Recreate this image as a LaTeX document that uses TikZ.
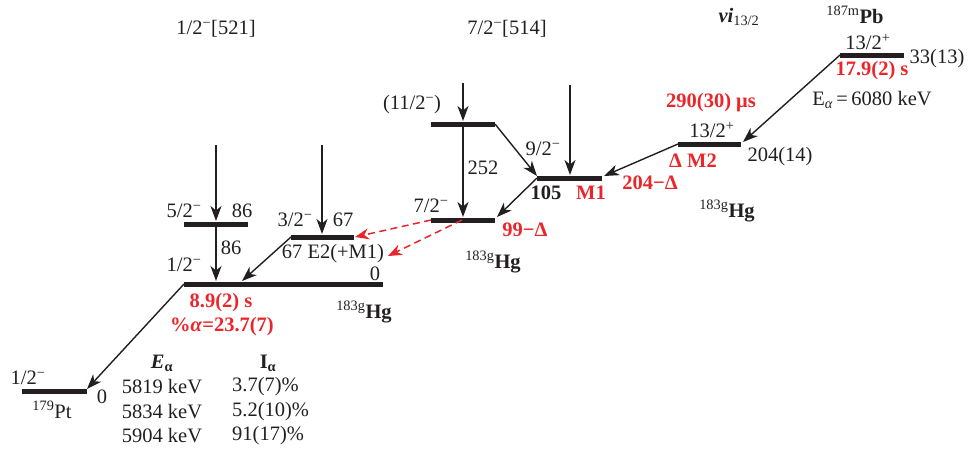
\documentclass[tikz,border=0pt]{standalone}
\usepackage{fontspec}
\setmainfont{Liberation Serif}
\usetikzlibrary{arrows.meta}
\definecolor{rd}{RGB}{235,38,42}
\definecolor{ink}{RGB}{35,31,32}
\newcommand\smn{\textsuperscript{−}}
\newcommand\spl{\textsuperscript{+}}
\newcommand\nuc[2]{\textsuperscript{#1}\textbf{#2}}
\begin{document}
\begin{tikzpicture}[x=1pt,y=-1pt,
  every node/.style={font=\fontsize{20.5}{24}\selectfont, text=ink, inner sep=0pt},
  lvl/.style={line width=5pt, draw=ink},
  tr/.style={-{Stealth[length=15pt,width=11pt,inset=4.5pt]}, line width=1.4pt, draw=ink},
  rtr/.style={-{Stealth[length=14pt,width=11pt,inset=4.5pt]}, line width=1.5pt, draw=rd, dash pattern=on 7pt off 4.5pt},
  rb/.style={text=rd, font=\fontsize{20.5}{24}\selectfont\bfseries}]
\useasboundingbox (0,0) rectangle (969,450);
% level end points
\coordinate (PtL) at (22,391);  \coordinate (PtR) at (87,391);
\coordinate (GsL) at (184,284); \coordinate (GsR) at (383,284);
\coordinate (FvL) at (184,224); \coordinate (FvR) at (248,224);
\coordinate (ThL) at (291,237); \coordinate (ThR) at (354,237);
\coordinate (SvL) at (431,220); \coordinate (SvR) at (495,220);
\coordinate (ElL) at (431,124); \coordinate (ElR) at (495,124);
\coordinate (NnL) at (537,178); \coordinate (NnR) at (602,178);
\coordinate (TtL) at (678,144); \coordinate (TtR) at (741,144);
\coordinate (PbL) at (840,55);  \coordinate (PbR) at (904,55);
% transition end points
\coordinate (a1s) at (216,145); \coordinate (a1e) at (216,221);
\coordinate (a2s) at (216,226); \coordinate (a2e) at (216,281);
\coordinate (a3s) at (322,145); \coordinate (a3e) at (322,234);
\coordinate (a4e) at (242,281);
\coordinate (a5s) at (463,83);  \coordinate (a5e) at (463,121);
\coordinate (a6s) at (463,126); \coordinate (a6e) at (463,217);
\coordinate (a7e) at (537,176);
\coordinate (a8s) at (570,85);  \coordinate (a8e) at (570,175);
\coordinate (a9e) at (497,217);
\coordinate (a10e) at (604,176);
\coordinate (a11e) at (743,142);
\coordinate (a12e) at (87,389);
\coordinate (r1e) at (355,237);
\coordinate (r2s) at (462,220); \coordinate (r2e) at (388,256);
% levels
\draw[lvl] (PtL) -- (PtR);
\draw[lvl] (GsL) -- (GsR);
\draw[lvl] (FvL) -- (FvR);
\draw[lvl] (ThL) -- (ThR);
\draw[lvl] (SvL) -- (SvR);
\draw[lvl] (ElL) -- (ElR);
\draw[lvl] (NnL) -- (NnR);
\draw[lvl] (TtL) -- (TtR);
\draw[lvl] (PbL) -- (PbR);
% transitions
\draw[tr] (a1s) -- (a1e);
\draw[tr] (a2s) -- (a2e);
\draw[tr] (a3s) -- (a3e);
\draw[tr] (ThL) -- (a4e);
\draw[tr] (a5s) -- (a5e);
\draw[tr] (a6s) -- (a6e);
\draw[tr] (ElR) -- (a7e);
\draw[tr] (a8s) -- (a8e);
\draw[tr] (NnL) -- (a9e);
\draw[tr] (TtL) -- (a10e);
\draw[tr] (PbL) -- (a11e);
\draw[tr] (GsL) -- (a12e);
\draw[rtr] (SvL) -- (r1e);
\draw[rtr] (r2s) -- (r2e);
% labels
\node (t1) at (216,29) {1/2\smn[521]};
\node (t2) at (507,29) {7/2\smn[514]};
\node (t3) at (739,17) {\textbf{\textit{νi}}\textsubscript{13/2}};
\node (t4) at (855,15) {\nuc{187m}{Pb}};
\node (t5) at (868,42) {13/2\spl};
\node (t6) at (937,59) {33(13)};
\node[rb] (t7) at (872,71) {17.9(2) s};
\node (t8) at (872,100) {E\textsubscript{\textit{α}}\,=\,6080 keV};
\node[rb] (t9) at (711,103) {290(30) μs};
\node (t10) at (712,130) {13/2\spl};
\node (t11) at (780,157) {204(14)};
\node[rb] (t12) at (693,161) {Δ M2};
\node[rb] (t13) at (650,183) {204−Δ};
\node (t14) at (727,211) {\nuc{183g}{Hg}};
\node (t15) at (412,105) {(11/2\smn)};
\node (t16) at (543,149) {9/2\smn};
\node (t17) at (483,168) {252};
\node (t18) at (546,193) {\textbf{105}};
\node[rb] (t19) at (591,193) {M1};
\node (t20) at (431,206) {7/2\smn};
\node[rb] (t21) at (525,230) {99−Δ};
\node (t22) at (493,262) {\nuc{183g}{Hg}};
\node (t23) at (184,211) {5/2\smn};
\node (t24) at (242,211) {86};
\node (t25) at (295,220) {3/2\smn};
\node (t26) at (343,220) {67};
\node (t27) at (231,248) {86};
\node (t28) at (333,254) {67 E2(+M1)};
\node (t29) at (184,265) {1/2\smn};
\node (t30) at (375,274) {0};
\node[rb] (t31) at (221,303) {8.9(2) s};
\node[rb] (t32) at (222,327) {\%\textit{α}=23.7(7)};
\node (t33) at (364,312) {\nuc{183g}{Hg}};
\node (t34) at (28,378) {1/2\smn};
\node (t35) at (102,397) {0};
\node (t36) at (52,410) {\textsuperscript{179}Pt};
\node (h1) at (162,363) {\textbf{\textit{E}\textsubscript{α}}};
\node (h2) at (268,363) {\textbf{I\textsubscript{α}}};
\node (e1) at (162,387) {5819 keV};
\node (e2) at (162,412) {5834 keV};
\node (e3) at (162,436) {5904 keV};
\node[anchor=west] (i1) at (232,387) {3.7(7)\%};
\node[anchor=west] (i2) at (232,412) {5.2(10)\%};
\node[anchor=west] (i3) at (232,436) {91(17)\%};
\end{tikzpicture}
\end{document}
